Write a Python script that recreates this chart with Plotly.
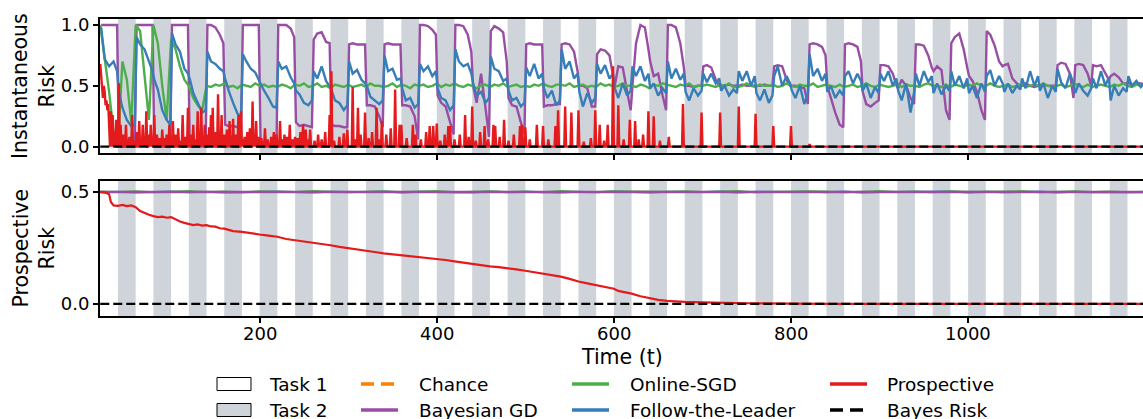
import plotly.graph_objects as go

# ---------------------------------------------------------------- data
# 20-step task segments; the two fast-switching curves are sampled 5x per segment
seg_starts = list(range(20, 1200, 20))
seg_offsets = [1, 5, 10, 15, 19]
t_seg = [s + o for s in seg_starts for o in seg_offsets]

# Bayesian GD, instantaneous risk (one row = one segment; odd rows = Task 2)
bgd_inst = [
    1.00, 1.00, 1.00, 1.00, 1.00,   # 20
    0.01, 0.00, 0.00, 0.00, 0.00,   # 40
    1.00, 1.00, 1.00, 1.00, 1.00,   # 60
    0.01, 0.00, 0.00, 0.00, 0.00,   # 80
    1.00, 1.00, 1.00, 1.00, 1.00,   # 100
    0.01, 0.00, 0.00, 0.00, 0.00,   # 120
    1.00, 1.00, 0.98, 0.92, 0.85,   # 140
    0.18, 0.17, 0.17, 0.16, 0.15,   # 160
    1.00, 1.00, 1.00, 1.00, 1.00,   # 180
    0.04, 0.03, 0.02, 0.01, 0.00,   # 200
    1.00, 1.00, 1.00, 0.97, 0.90,   # 220
    0.20, 0.17, 0.18, 0.17, 0.16,   # 240
    0.88, 0.93, 0.94, 0.86, 0.85,   # 260
    0.18, 0.17, 0.17, 0.16, 0.16,   # 280
    0.84, 0.85, 0.84, 0.84, 0.84,   # 300
    0.34, 0.34, 0.33, 0.25, 0.16,   # 320
    0.84, 0.85, 0.84, 0.84, 0.84,   # 340
    0.34, 0.34, 0.33, 0.25, 0.06,   # 360
    1.00, 1.00, 0.99, 0.96, 0.92,   # 380
    0.42, 0.36, 0.33, 0.20, 0.10,   # 400
    1.00, 1.00, 0.99, 0.92, 0.78,   # 420
    0.50, 0.36, 0.60, 0.32, 0.08,   # 440
    0.95, 0.99, 0.97, 0.94, 0.70,   # 460
    0.40, 0.34, 0.33, 0.20, 0.10,   # 480
    0.84, 0.85, 0.84, 0.84, 0.84,   # 500
    0.33, 0.34, 0.34, 0.35, 0.35,   # 520
    0.84, 0.85, 0.84, 0.78, 0.62,   # 540
    0.50, 0.50, 0.48, 0.33, 0.33,   # 560
    0.76, 0.80, 0.79, 0.75, 0.60,   # 580
    0.50, 0.66, 0.65, 0.45, 0.30,   # 600
    0.50, 0.85, 1.00, 0.98, 0.80,   # 620
    0.70, 0.58, 0.60, 0.42, 0.30,   # 640
    1.00, 1.00, 0.98, 0.85, 0.65,   # 660
    0.50, 0.50, 0.49, 0.50, 0.50,   # 680
    0.66, 0.67, 0.65, 0.55, 0.50,   # 700
    0.50, 0.50, 0.51, 0.50, 0.50,   # 720
    0.50, 0.51, 0.50, 0.50, 0.50,   # 740
    0.50, 0.50, 0.51, 0.50, 0.50,   # 760
    0.66, 0.67, 0.66, 0.55, 0.50,   # 780
    0.50, 0.50, 0.49, 0.48, 0.35,   # 800
    0.84, 0.85, 0.84, 0.82, 0.75,   # 820
    0.50, 0.40, 0.28, 0.18, 0.16,   # 840
    0.84, 0.85, 0.84, 0.82, 0.70,   # 860
    0.45, 0.35, 0.33, 0.36, 0.38,   # 880
    0.67, 0.67, 0.66, 0.60, 0.50,   # 900
    0.48, 0.55, 0.50, 0.40, 0.35,   # 920
    0.84, 0.84, 0.83, 0.75, 0.65,   # 940
    0.62, 0.66, 0.63, 0.30, 0.22,   # 960
    0.85, 0.90, 0.93, 0.80, 0.65,   # 980
    0.58, 0.54, 0.45, 0.30, 0.22,   # 1000
    0.95, 0.92, 0.83, 0.70, 0.66,   # 1020
    0.67, 0.68, 0.56, 0.52, 0.50,   # 1040
    0.50, 0.52, 0.50, 0.49, 0.50,   # 1060
    0.50, 0.51, 0.50, 0.50, 0.50,   # 1080
    0.67, 0.69, 0.68, 0.60, 0.40,   # 1100
    0.67, 0.68, 0.67, 0.60, 0.50,   # 1120
    0.67, 0.66, 0.67, 0.60, 0.55,   # 1140
    0.58, 0.60, 0.57, 0.52, 0.52,   # 1160
    0.53, 0.50, 0.52, 0.52, 0.51,   # 1180
]

# Follow-the-Leader, instantaneous risk
ftl_inst = [
    0.98, 0.72, 0.66, 0.70, 0.62,   # 20
    0.45, 0.32, 0.22, 0.17, 0.18,   # 40
    0.90, 0.84, 0.80, 0.70, 0.62,   # 60
    0.55, 0.47, 0.30, 0.22, 0.18,   # 80
    0.93, 0.84, 0.78, 0.64, 0.60,   # 100
    0.56, 0.44, 0.36, 0.28, 0.30,   # 120
    0.78, 0.70, 0.68, 0.64, 0.62,   # 140
    0.56, 0.46, 0.36, 0.27, 0.25,   # 160
    0.76, 0.70, 0.64, 0.61, 0.55,   # 180
    0.52, 0.46, 0.40, 0.33, 0.32,   # 200
    0.70, 0.64, 0.66, 0.57, 0.52,   # 220
    0.46, 0.43, 0.36, 0.34, 0.38,   # 240
    0.62, 0.56, 0.66, 0.54, 0.50,   # 260
    0.47, 0.38, 0.36, 0.30, 0.34,   # 280
    0.70, 0.60, 0.63, 0.55, 0.52,   # 300
    0.50, 0.41, 0.38, 0.35, 0.38,   # 320
    0.75, 0.62, 0.64, 0.55, 0.56,   # 340
    0.48, 0.38, 0.40, 0.32, 0.35,   # 360
    0.68, 0.62, 0.66, 0.58, 0.62,   # 380
    0.48, 0.40, 0.38, 0.30, 0.34,   # 400
    0.80, 0.70, 0.66, 0.68, 0.60,   # 420
    0.52, 0.42, 0.45, 0.36, 0.40,   # 440
    0.74, 0.64, 0.62, 0.54, 0.56,   # 460
    0.46, 0.38, 0.40, 0.33, 0.36,   # 480
    0.65, 0.58, 0.68, 0.56, 0.60,   # 500
    0.48, 0.40, 0.46, 0.34, 0.38,   # 520
    0.80, 0.64, 0.70, 0.56, 0.60,   # 540
    0.45, 0.33, 0.44, 0.36, 0.40,   # 560
    0.68, 0.60, 0.67, 0.56, 0.60,   # 580
    0.48, 0.40, 0.52, 0.42, 0.46,   # 600
    0.66, 0.58, 0.66, 0.54, 0.60,   # 620
    0.48, 0.52, 0.42, 0.48, 0.44,   # 640
    0.70, 0.56, 0.64, 0.55, 0.60,   # 660
    0.45, 0.38, 0.48, 0.42, 0.46,   # 680
    0.60, 0.53, 0.60, 0.52, 0.56,   # 700
    0.46, 0.50, 0.42, 0.47, 0.44,   # 720
    0.62, 0.54, 0.62, 0.50, 0.58,   # 740
    0.44, 0.38, 0.47, 0.36, 0.42,   # 760
    0.58, 0.66, 0.50, 0.58, 0.52,   # 780
    0.46, 0.40, 0.50, 0.35, 0.44,   # 800
    0.76, 0.58, 0.64, 0.54, 0.60,   # 820
    0.45, 0.50, 0.40, 0.46, 0.42,   # 840
    0.58, 0.62, 0.52, 0.60, 0.54,   # 860
    0.46, 0.52, 0.40, 0.49, 0.44,   # 880
    0.60, 0.54, 0.62, 0.50, 0.56,   # 900
    0.46, 0.38, 0.52, 0.28, 0.45,   # 920
    0.60, 0.50, 0.62, 0.53, 0.58,   # 940
    0.44, 0.52, 0.43, 0.50, 0.46,   # 960
    0.62, 0.50, 0.58, 0.48, 0.56,   # 980
    0.44, 0.50, 0.40, 0.52, 0.45,   # 1000
    0.58, 0.63, 0.50, 0.58, 0.52,   # 1020
    0.45, 0.52, 0.44, 0.50, 0.47,   # 1040
    0.56, 0.48, 0.62, 0.50, 0.58,   # 1060
    0.46, 0.52, 0.40, 0.50, 0.45,   # 1080
    0.64, 0.53, 0.48, 0.60, 0.52,   # 1100
    0.44, 0.52, 0.46, 0.42, 0.48,   # 1120
    0.56, 0.48, 0.62, 0.50, 0.57,   # 1140
    0.38, 0.50, 0.42, 0.48, 0.45,   # 1160
    0.58, 0.50, 0.54, 0.49, 0.52,   # 1180
]

# Online-SGD, instantaneous risk, every 5 steps
t_grid = list(range(20, 1200, 5))
sgd_inst = [
    1.00, 0.72, 0.45, 0.12, 0.02, 0.70, 0.55, 0.20,   # 20-55
    1.00, 0.95, 0.60, 0.22, 1.00, 0.85, 0.50, 0.22,   # 60-95
    0.88, 0.80, 0.66, 0.55, 0.50, 0.40, 0.34, 0.30,   # 100-135
    0.50, 0.49, 0.51, 0.50, 0.52, 0.49, 0.50, 0.48,   # 140-175
    0.51, 0.50, 0.49, 0.52, 0.50, 0.51, 0.49, 0.50,   # 180-215
    0.49, 0.51, 0.50, 0.48, 0.51, 0.50, 0.52, 0.49,   # 220-255
    0.50, 0.52, 0.49, 0.50, 0.48, 0.51, 0.50, 0.49,   # 260-295
    0.51, 0.49, 0.50, 0.51, 0.49, 0.52, 0.50, 0.50,   # 300-335
    0.49, 0.50, 0.52, 0.49, 0.51, 0.50, 0.48, 0.51,   # 340-375
    0.50, 0.51, 0.49, 0.50, 0.52, 0.49, 0.51, 0.50,   # 380-415
    0.52, 0.50, 0.49, 0.51, 0.50, 0.48, 0.50, 0.51,   # 420-455
    0.49, 0.51, 0.50, 0.52, 0.49, 0.50, 0.51, 0.49,   # 460-495
    0.50, 0.49, 0.51, 0.50, 0.52, 0.50, 0.49, 0.51,   # 500-535
    0.51, 0.50, 0.52, 0.49, 0.50, 0.51, 0.49, 0.50,   # 540-575
    0.49, 0.52, 0.50, 0.51, 0.49, 0.50, 0.52, 0.50,   # 580-615
    0.50, 0.49, 0.51, 0.50, 0.48, 0.51, 0.50, 0.52,   # 620-655
    0.51, 0.50, 0.49, 0.51, 0.50, 0.52, 0.49, 0.50,   # 660-695
    0.50, 0.51, 0.50, 0.49, 0.51, 0.50, 0.52, 0.49,   # 700-735
    0.49, 0.50, 0.52, 0.50, 0.49, 0.51, 0.50, 0.50,   # 740-775
    0.51, 0.49, 0.50, 0.52, 0.50, 0.49, 0.51, 0.50,   # 780-815
    0.50, 0.52, 0.49, 0.50, 0.51, 0.50, 0.49, 0.51,   # 820-855
    0.49, 0.50, 0.51, 0.49, 0.50, 0.52, 0.50, 0.49,   # 860-895
    0.51, 0.50, 0.49, 0.50, 0.52, 0.49, 0.51, 0.50,   # 900-935
    0.50, 0.49, 0.51, 0.52, 0.50, 0.50, 0.49, 0.51,   # 940-975
    0.49, 0.51, 0.50, 0.49, 0.51, 0.50, 0.52, 0.50,   # 980-1015
    0.50, 0.52, 0.50, 0.49, 0.50, 0.51, 0.49, 0.50,   # 1020-1055
    0.51, 0.49, 0.50, 0.51, 0.50, 0.52, 0.50, 0.49,   # 1060-1095
    0.50, 0.51, 0.49, 0.50, 0.52, 0.50, 0.49, 0.51,   # 1100-1135
    0.49, 0.50, 0.51, 0.50, 0.49, 0.51, 0.50, 0.52,   # 1140-1175
    0.50, 0.49, 0.51, 0.50,                           # 1180-1195
]

# Prospective learner, instantaneous risk: nonzero steps (time, risk); zero elsewhere
spike_t = [
    20, 21, 22, 23, 24, 25, 26, 27, 28, 29, 30, 32, 34, 36, 38, 41, 43, 46, 49, 51,
    53, 56, 58, 61, 64, 66, 68, 70, 72, 75, 77, 79, 81, 84, 87, 90, 92, 95, 98, 100,
    102, 105, 108, 110, 113, 116, 119, 122, 125, 127, 130, 132, 134, 136, 138, 141, 143, 145, 147, 150,
    153, 155, 157, 160, 163, 166, 168, 170, 173, 176, 179, 181, 183, 186, 189, 192, 194, 196, 199, 202,
    206, 209, 213, 216, 219, 223, 226, 228, 231, 234, 237, 240, 243, 246, 249, 252, 255, 257,
    262, 266, 270, 274, 279, 281, 284, 290, 295, 299, 305, 308, 311, 314, 319, 323, 327, 332, 335, 338,
    343, 348, 353, 358, 360, 366, 373, 376, 382, 388, 392, 396, 400, 404, 409, 413, 415, 420, 426, 432,
    436, 440, 444, 449, 454, 458, 464, 466, 471, 476, 481, 487, 494, 496, 500, 505, 513, 520, 526, 534,
    537, 545, 552, 560, 566, 574, 579, 584, 589, 593, 599, 605, 611, 618, 624, 628, 633, 639, 645, 652,
    662, 678, 699, 720, 741, 760, 780, 800, 821,
]
spike_h = [
    0.68, 0.60, 0.52, 0.40, 0.50, 0.45, 0.34, 0.38, 0.30, 0.35, 0.18, 0.29, 0.26, 0.12, 0.22, 0.52, 0.18, 0.10, 0.18, 0.06,
    0.08, 0.26, 0.05, 0.12, 0.21, 0.06, 0.18, 0.08, 0.29, 0.10, 0.18, 0.05, 0.26, 0.10, 0.07, 0.14, 0.07, 0.10, 0.18, 0.06,
    0.21, 0.10, 0.15, 0.05, 0.26, 0.08, 0.32, 0.10, 0.18, 0.06, 0.29, 0.12, 0.32, 0.08, 0.18, 0.10, 0.16, 0.26, 0.32, 0.12,
    0.43, 0.08, 0.26, 0.10, 0.14, 0.21, 0.06, 0.23, 0.10, 0.26, 0.29, 0.06, 0.08, 0.12, 0.15, 0.37, 0.06, 0.21, 0.08, 0.07,
    0.15, 0.06, 0.08, 0.12, 0.10, 0.21, 0.06, 0.10, 0.08, 0.18, 0.06, 0.08, 0.07, 0.12, 0.18, 0.14, 0.06, 0.14,
    0.05, 0.10, 0.06, 0.12, 0.26, 0.62, 0.05, 0.08, 0.11, 0.14, 0.49, 0.06, 0.32, 0.10, 0.28, 0.07, 0.12, 0.32, 0.06, 0.21,
    0.10, 0.15, 0.47, 0.18, 0.18, 0.07, 0.18, 0.10, 0.06, 0.12, 0.17, 0.17, 0.19, 0.05, 0.10, 0.17, 0.17, 0.06, 0.10, 0.26,
    0.08, 0.33, 0.05, 0.12, 0.17, 0.06, 0.18, 0.17, 0.08, 0.22, 0.05, 0.10, 0.17, 0.18, 0.16, 0.06, 0.18, 0.17, 0.06, 0.17,
    0.30, 0.33, 0.28, 0.30, 0.04, 0.07, 0.30, 0.18, 0.05, 0.18, 0.66, 0.34, 0.06, 0.22, 0.21, 0.06, 0.10, 0.29, 0.25, 0.05,
    0.08, 0.35, 0.28, 0.28, 0.33, 0.27, 0.17, 0.17, 0.02,
]

# prospective risk of the prospective learner
prosp_t = [20, 26, 30, 32, 35, 40, 45, 50, 55, 60, 65, 70, 75, 80, 85, 90, 95, 100, 105, 110,
           115, 120, 125, 130, 135, 140, 145, 150, 155, 160, 170, 180, 190, 200, 210, 220, 230, 240, 250, 260,
           270, 280, 290, 300, 310, 320, 330, 340, 350, 360, 370, 380, 390, 400, 410, 420, 430, 440, 450, 460,
           470, 480, 490, 500, 510, 520, 530, 540, 550, 560, 570, 580, 590, 600, 605, 610, 620, 630, 640, 650,
           660, 670, 680, 700, 720, 750, 800, 850, 1200]
prosp_v = [0.500, 0.497, 0.490, 0.455, 0.440, 0.438, 0.442, 0.437, 0.440, 0.432, 0.415, 0.405, 0.398, 0.392, 0.388, 0.390, 0.385, 0.388, 0.378, 0.368,
           0.362, 0.358, 0.352, 0.355, 0.350, 0.352, 0.346, 0.345, 0.338, 0.336, 0.325, 0.322, 0.315, 0.310, 0.305, 0.300, 0.290, 0.285, 0.280, 0.272,
           0.268, 0.262, 0.255, 0.250, 0.245, 0.238, 0.232, 0.226, 0.222, 0.218, 0.212, 0.208, 0.204, 0.200, 0.196, 0.190, 0.184, 0.178, 0.172, 0.168,
           0.164, 0.160, 0.154, 0.148, 0.142, 0.136, 0.130, 0.122, 0.112, 0.100, 0.092, 0.083, 0.076, 0.068, 0.058, 0.054, 0.046, 0.034, 0.026, 0.018,
           0.014, 0.011, 0.009, 0.007, 0.005, 0.003, 0.001, 0.000, 0.000]

# prospective risk of the baselines (every 20 steps)
t_coarse = list(range(20, 1201, 20))
bgd_prosp = [0.500] * len(t_coarse)
sgd_prosp = [0.502, 0.500, 0.503, 0.499, 0.501, 0.504, 0.500, 0.502, 0.499, 0.503,
             0.501, 0.500, 0.504, 0.502, 0.499, 0.501, 0.503, 0.500, 0.502, 0.504,
             0.499, 0.501, 0.503, 0.500, 0.502, 0.499, 0.504, 0.501, 0.500, 0.503,
             0.502, 0.499, 0.501, 0.503, 0.500, 0.502, 0.504, 0.499, 0.501, 0.500,
             0.503, 0.502, 0.499, 0.501, 0.504, 0.500, 0.502, 0.499, 0.503, 0.501,
             0.500, 0.502, 0.504, 0.499, 0.501, 0.503, 0.500, 0.502, 0.499, 0.501]
ftl_prosp = [0.499, 0.501, 0.498, 0.500, 0.502, 0.499, 0.501, 0.498, 0.500, 0.499,
             0.502, 0.500, 0.498, 0.501, 0.499, 0.500, 0.502, 0.498, 0.501, 0.499,
             0.500, 0.498, 0.502, 0.499, 0.501, 0.500, 0.498, 0.501, 0.499, 0.502,
             0.500, 0.498, 0.501, 0.499, 0.500, 0.502, 0.498, 0.501, 0.499, 0.500,
             0.501, 0.499, 0.502, 0.498, 0.500, 0.501, 0.499, 0.500, 0.502, 0.498,
             0.501, 0.499, 0.500, 0.502, 0.498, 0.501, 0.499, 0.500, 0.501, 0.499]

bayes_t = [20, 1200]
bayes_v = [0.0, 0.0]

# Task 2 intervals [start, start + 20)
task2_starts = [40, 80, 120, 160, 200, 240, 280, 320, 360, 400, 440, 480, 520, 560, 600,
                640, 680, 720, 760, 800, 840, 880, 920, 960, 1000, 1040, 1080, 1120, 1160]
task_len = 20

x_ticks = [200, 400, 600, 800, 1000]

# ---------------------------------------------------------------- styling
C_RED, C_BLUE, C_GREEN = "#e41a1c", "#377eb8", "#4daf4a"
C_PURPLE, C_ORANGE = "#984ea3", "#ff7f00"
C_BAND = "#cfd4db"
FONT = "DejaVu Sans"

W, H = 1143, 419
L, R, T, B = 100, 1143, 19, 316        # plot-area frame in pixels
TOP_BOTTOM_PX, BOT_TOP_PX = 153, 181  # inner panel edges


def px_x(px):
    return (px - L) / (R - L)


def px_y(py):
    return (B - py) / (B - T)


# build the spiky instantaneous-risk curve on the integer time axis
t_fine = list(range(20, 1200))
prosp_inst = [0.0] * len(t_fine)
for ts, hs in zip(spike_t, spike_h):
    prosp_inst[ts - 20] = hs

fig = go.Figure()


def line(x, y, color, width, xa, ya, dash=None):
    fig.add_trace(go.Scatter(
        x=x, y=y, mode="lines", xaxis=xa, yaxis=ya, showlegend=False,
        line=dict(color=color, width=width, dash=dash), hoverinfo="skip"))


# top panel: instantaneous risk
line(t_seg, bgd_inst, C_PURPLE, 2.4, "x", "y")
line(t_grid, sgd_inst, C_GREEN, 2.4, "x", "y")
line(t_seg, ftl_inst, C_BLUE, 2.4, "x", "y")
line(t_fine, prosp_inst, C_RED, 2.4, "x", "y")
line(bayes_t, bayes_v, "black", 2.4, "x", "y", dash="9px,4px")

# bottom panel: prospective risk
line(t_coarse, ftl_prosp, C_BLUE, 2.0, "x2", "y2")
line(t_coarse, sgd_prosp, C_GREEN, 2.0, "x2", "y2")
line(t_coarse, bgd_prosp, C_PURPLE, 2.4, "x2", "y2")
line(prosp_t, prosp_v, C_RED, 2.2, "x2", "y2")
line(bayes_t, bayes_v, "black", 2.4, "x2", "y2", dash="9px,4px")

shapes = []
for s in task2_starts:
    for xr, yr in (("x", "y domain"), ("x2", "y2 domain")):
        shapes.append(dict(type="rect", xref=xr, yref=yr, x0=s, x1=s + task_len,
                           y0=0, y1=1, fillcolor=C_BAND, line=dict(width=0),
                           layer="below"))

annotations = []

# legend drawn below the axes (4 columns x 2 rows)
ROW1, ROW2 = 384, 410
TXT = dict(family=FONT, size=18.5, color="black")


def legend_patch(x0, x1, yc, fill):
    shapes.append(dict(type="rect", xref="paper", yref="paper",
                       x0=px_x(x0), x1=px_x(x1), y0=px_y(yc + 6.5), y1=px_y(yc - 6.5),
                       fillcolor=fill, line=dict(color="black", width=1)))


def legend_line(x0, x1, yc, color, dash=None):
    shapes.append(dict(type="line", xref="paper", yref="paper",
                       x0=px_x(x0), x1=px_x(x1), y0=px_y(yc), y1=px_y(yc),
                       line=dict(color=color, width=3.5, dash=dash)))


def legend_text(x, yc, text):
    annotations.append(dict(text=text, xref="paper", yref="paper", x=px_x(x), y=px_y(yc),
                            xanchor="left", yanchor="middle", showarrow=False, font=TXT))


legend_patch(217, 251, ROW1, "white")
legend_text(267, ROW1, "Task 1")
legend_patch(217, 251, ROW2, C_BAND)
legend_text(267, ROW2, "Task 2")
legend_line(361, 398, ROW1, C_ORANGE, dash="13px,7px")
legend_text(417, ROW1, "Chance")
legend_line(361, 398, ROW2, C_PURPLE)
legend_text(417, ROW2, "Bayesian GD")
legend_line(572, 609, ROW1, C_GREEN)
legend_text(628, ROW1, "Online-SGD")
legend_line(572, 609, ROW2, C_BLUE)
legend_text(628, ROW2, "Follow-the-Leader")
legend_line(830, 867, ROW1, C_RED)
legend_text(885, ROW1, "Prospective")
legend_line(830, 867, ROW2, "black", dash="13px,7px")
legend_text(885, ROW2, "Bayes Risk")

# axis titles
TITLE = dict(family=FONT, size=20.5, color="black")
annotations.append(dict(text="Instantaneous<br>Risk", xref="paper", yref="paper",
                        x=px_x(34), y=px_y((T + TOP_BOTTOM_PX) / 2), textangle=-90,
                        xanchor="center", yanchor="middle", showarrow=False, font=TITLE))
annotations.append(dict(text="Prospective<br>Risk", xref="paper", yref="paper",
                        x=px_x(34), y=px_y((BOT_TOP_PX + B) / 2), textangle=-90,
                        xanchor="center", yanchor="middle", showarrow=False, font=TITLE))
annotations.append(dict(text="Time (t)", xref="paper", yref="paper",
                        x=0.5, y=px_y(357), xanchor="center", yanchor="middle",
                        showarrow=False, font=TITLE))

TICKF = dict(family=FONT, size=18, color="black")

# x tick labels of the lower panel, placed on the data scale
for v in x_ticks:
    annotations.append(dict(text=str(v), xref="x2", yref="paper", x=v, y=px_y(333.5),
                            xanchor="center", yanchor="middle", showarrow=False, font=TICKF))

xcommon = dict(range=[19.7, 1197.5], tickvals=x_ticks, showticklabels=False,
               ticks="outside", ticklen=5, tickwidth=1.5, tickcolor="black",
               showline=True, linecolor="black", linewidth=2, mirror=True,
               showgrid=False, zeroline=False)
ycommon = dict(ticks="outside", ticklen=5, tickwidth=1.5, tickcolor="black",
               showline=True, linecolor="black", linewidth=2, mirror=False,
               showgrid=False, zeroline=False, tickfont=TICKF)

fig.update_layout(
    width=W, height=H,
    margin=dict(l=L, r=W - R, t=T, b=H - B),
    paper_bgcolor="white", plot_bgcolor="white",
    font=dict(family=FONT, color="black"),
    showlegend=False,
    xaxis=dict(domain=[0, 1], anchor="y", **xcommon),
    xaxis2=dict(domain=[0, 1], anchor="y2", matches="x", **xcommon),
    yaxis=dict(domain=[px_y(TOP_BOTTOM_PX), 1], anchor="x", range=[-0.052, 1.049],
               tickvals=[0, 0.5, 1.0], ticktext=["0.0", "0.5", "1.0"], **ycommon),
    yaxis2=dict(domain=[0, px_y(BOT_TOP_PX)], anchor="x2", range=[-0.054, 0.549],
                tickvals=[0, 0.5], ticktext=["0.0", "0.5"], **ycommon),
    shapes=shapes,
    annotations=annotations,
)

fig.write_html("out.html")
